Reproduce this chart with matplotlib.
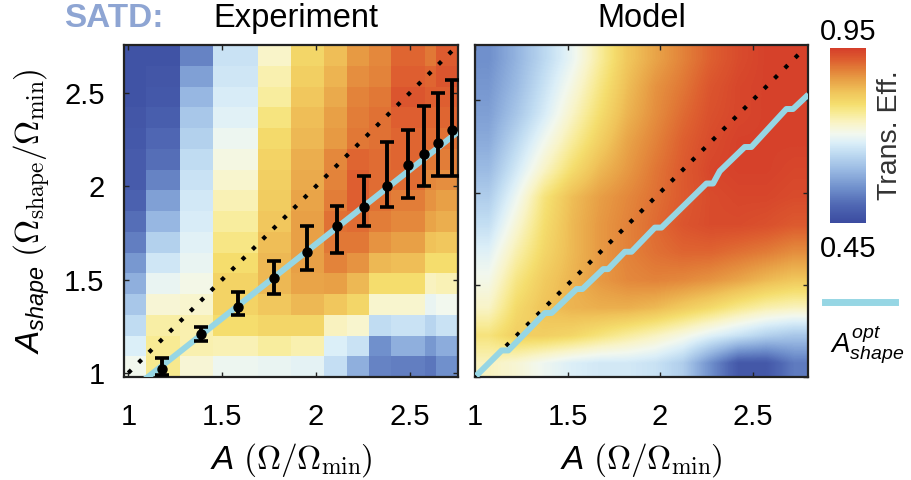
import numpy as np
import matplotlib
matplotlib.use("Agg")
import matplotlib.pyplot as plt
from matplotlib.colors import LinearSegmentedColormap
from matplotlib.lines import Line2D
from matplotlib.cm import ScalarMappable
from matplotlib.colors import Normalize

plt.rcParams['font.family'] = ['Liberation Sans', 'DejaVu Sans']
plt.rcParams['mathtext.fontset'] = 'custom'
plt.rcParams['mathtext.rm'] = 'cmr10'
plt.rcParams['mathtext.it'] = 'Liberation Sans:italic'
plt.rcParams['mathtext.bf'] = 'Liberation Sans:bold'
plt.rcParams['axes.unicode_minus'] = False

# ---------------- data ----------------
eff_min, eff_max = 0.45, 0.95

# measured grid: column edges in A, efficiencies (rows listed from top A_shape to bottom)
exp_x_edges = [0.977, 1.094, 1.275, 1.451, 1.691, 1.866, 2.042, 2.164, 2.282, 2.399, 2.580, 2.639, 2.757]
exp_y_range = [0.978, 2.757]
exp_eff = [
    [0.465, 0.465, 0.535, 0.660, 0.735, 0.800, 0.830, 0.865, 0.880, 0.910, 0.895, 0.920],
    [0.465, 0.470, 0.570, 0.665, 0.750, 0.810, 0.840, 0.875, 0.885, 0.915, 0.910, 0.925],
    [0.465, 0.475, 0.600, 0.675, 0.760, 0.820, 0.850, 0.885, 0.895, 0.925, 0.915, 0.915],
    [0.470, 0.485, 0.620, 0.685, 0.780, 0.830, 0.860, 0.890, 0.900, 0.915, 0.910, 0.910],
    [0.475, 0.500, 0.635, 0.700, 0.795, 0.835, 0.865, 0.895, 0.900, 0.910, 0.905, 0.900],
    [0.480, 0.510, 0.650, 0.715, 0.805, 0.845, 0.880, 0.910, 0.905, 0.910, 0.895, 0.890],
    [0.480, 0.535, 0.660, 0.730, 0.810, 0.850, 0.885, 0.915, 0.905, 0.905, 0.880, 0.875],
    [0.490, 0.570, 0.670, 0.745, 0.815, 0.855, 0.890, 0.915, 0.900, 0.890, 0.870, 0.860],
    [0.510, 0.600, 0.675, 0.760, 0.820, 0.860, 0.900, 0.905, 0.890, 0.880, 0.855, 0.845],
    [0.530, 0.635, 0.685, 0.775, 0.830, 0.860, 0.895, 0.895, 0.870, 0.860, 0.825, 0.820],
    [0.560, 0.665, 0.695, 0.790, 0.835, 0.860, 0.885, 0.870, 0.835, 0.830, 0.790, 0.790],
    [0.590, 0.695, 0.710, 0.805, 0.835, 0.855, 0.860, 0.835, 0.790, 0.790, 0.740, 0.745],
    [0.620, 0.725, 0.730, 0.805, 0.820, 0.835, 0.820, 0.800, 0.730, 0.730, 0.695, 0.705],
    [0.650, 0.755, 0.750, 0.790, 0.800, 0.800, 0.740, 0.730, 0.650, 0.660, 0.640, 0.660],
    [0.680, 0.765, 0.750, 0.745, 0.760, 0.750, 0.680, 0.660, 0.550, 0.590, 0.560, 0.585],
    [0.705, 0.770, 0.725, 0.700, 0.695, 0.690, 0.655, 0.590, 0.535, 0.530, 0.520, 0.550],
]

# optimal A_shape measured at each A (mean with lower / upper error limits)
meas_A = [1.178, 1.386, 1.586, 1.776, 1.953, 2.113, 2.257, 2.376, 2.493, 2.576, 2.651, 2.725]
meas_Ashape = [1.021, 1.209, 1.351, 1.510, 1.646, 1.785, 1.889, 1.999, 2.112, 2.173, 2.232, 2.299]
meas_low = [0.991, 1.169, 1.311, 1.425, 1.553, 1.643, 1.785, 1.889, 1.937, 1.999, 2.053, 2.053]
meas_high = [1.080, 1.246, 1.432, 1.600, 1.789, 1.892, 2.057, 2.235, 2.299, 2.432, 2.500, 2.567]

# linear fit of the measured optimum: slope, intercept
opt_fit = [0.795, 0.100]

# simulated efficiency on a 12 x 12 grid (rows listed from top A_shape to bottom)
model_range = [1.0, 2.8]
model_eff = [
    [0.550, 0.595, 0.645, 0.695, 0.760, 0.820, 0.855, 0.885, 0.915, 0.935, 0.945, 0.945],
    [0.560, 0.605, 0.660, 0.715, 0.775, 0.830, 0.870, 0.895, 0.925, 0.940, 0.945, 0.945],
    [0.570, 0.620, 0.675, 0.735, 0.790, 0.840, 0.875, 0.905, 0.930, 0.940, 0.945, 0.945],
    [0.585, 0.645, 0.705, 0.760, 0.810, 0.855, 0.885, 0.915, 0.935, 0.945, 0.945, 0.945],
    [0.605, 0.670, 0.735, 0.790, 0.835, 0.865, 0.895, 0.920, 0.940, 0.945, 0.945, 0.940],
    [0.630, 0.700, 0.780, 0.830, 0.860, 0.880, 0.900, 0.920, 0.935, 0.940, 0.940, 0.935],
    [0.655, 0.725, 0.790, 0.835, 0.865, 0.885, 0.905, 0.925, 0.935, 0.935, 0.930, 0.920],
    [0.685, 0.750, 0.800, 0.835, 0.865, 0.885, 0.900, 0.910, 0.910, 0.900, 0.890, 0.875],
    [0.710, 0.775, 0.815, 0.840, 0.865, 0.880, 0.885, 0.880, 0.870, 0.855, 0.835, 0.820],
    [0.735, 0.795, 0.825, 0.840, 0.845, 0.845, 0.835, 0.815, 0.795, 0.770, 0.750, 0.740],
    [0.780, 0.810, 0.810, 0.800, 0.780, 0.760, 0.740, 0.715, 0.685, 0.660, 0.635, 0.620],
    [0.740, 0.725, 0.700, 0.680, 0.670, 0.670, 0.660, 0.630, 0.550, 0.475, 0.475, 0.525],
]

# simulated optimum A_shape versus A
model_opt_A = [1.018, 1.144, 1.180, 1.378, 1.414, 1.549, 1.581, 1.693, 1.720, 1.810, 1.846,
               1.972, 2.008, 2.251, 2.287, 2.323, 2.458, 2.494, 2.683, 2.719, 2.791]
model_opt_Ashape = [1.018, 1.144, 1.144, 1.347, 1.347, 1.477, 1.477, 1.585, 1.585, 1.679, 1.679,
                    1.810, 1.810, 2.049, 2.049, 2.116, 2.247, 2.247, 2.453, 2.453, 2.521]

# adiabatic reference A_shape = A
diag = [1.0, 2.75]

tick_vals = [1, 1.5, 2, 2.5]
tick_text = ['1', '1.5', '2', '2.5']

# ---------------- style ----------------
cmap = LinearSegmentedColormap.from_list('trans_eff', [
    (0.00, '#3B4BA0'), (0.10, '#4F67B3'), (0.20, '#7090CC'), (0.30, '#98B8E2'),
    (0.40, '#C0DCF2'), (0.46, '#DCEFF8'), (0.51, '#F2F8EE'), (0.57, '#F9F4C8'),
    (0.63, '#F8EB95'), (0.68, '#F5DE6E'), (0.75, '#F0C45A'), (0.82, '#E8A046'),
    (0.88, '#E27E38'), (0.93, '#DE6030'), (1.00, '#D53E2A')])
norm = Normalize(eff_min, eff_max)
cyan = '#96D6E4'
spine_col = '#222222'
tick_fs = 21
label_fs = 24
W, H = 912, 480

fig = plt.figure(figsize=(W / 100, H / 100), dpi=100)


def box(x0, y0, x1, y1):
    return [x0 / W, 1 - y1 / H, (x1 - x0) / W, (y1 - y0) / H]


def style_axes(ax, show_y):
    for s in ax.spines.values():
        s.set_color(spine_col)
        s.set_linewidth(1.6)
    ax.set_xticks(tick_vals, tick_text)
    ax.set_yticks(tick_vals, tick_text)
    ax.tick_params(direction='in', top=True, right=True, length=3.5, width=1.0,
                   color=spine_col, labelsize=tick_fs)
    ax.tick_params(axis='x', pad=19)
    ax.tick_params(axis='y', pad=14, labelleft=show_y)
    ax.set_xlabel(r'$A\ (\Omega/\Omega_{\mathrm{min}})$', fontsize=label_fs, labelpad=7)


dot_style = dict(color='black', lw=3.0, ls=(0, (1, 2.5)), dash_capstyle='butt')

# ---- experiment ----
ax1 = fig.add_axes(box(124, 45, 458, 377))
y_edges = np.linspace(exp_y_range[0], exp_y_range[1], len(exp_eff) + 1)
ax1.pcolormesh(exp_x_edges, y_edges, np.flipud(np.array(exp_eff)), cmap=cmap, norm=norm,
               shading='flat')
ax1.set_xlim(exp_x_edges[0], exp_x_edges[-1])
ax1.set_ylim(*exp_y_range)
fx = np.array([exp_x_edges[0], exp_x_edges[-1]])
ax1.plot(fx, opt_fit[0] * fx + opt_fit[1], color=cyan, lw=4.3, solid_capstyle='butt', zorder=3)
ax1.plot(diag, diag, zorder=3, **dot_style)
yerr = [np.array(meas_Ashape) - np.array(meas_low), np.array(meas_high) - np.array(meas_Ashape)]
ax1.errorbar(meas_A, meas_Ashape, yerr=yerr, fmt='o', color='black', ms=6.5,
             elinewidth=2.8, capsize=4.8, capthick=2.6, zorder=4)
style_axes(ax1, True)
ax1.set_ylabel(r'$A_{shape}\ (\Omega_{\mathrm{shape}}/\Omega_{\mathrm{min}})$', fontsize=label_fs,
               labelpad=9)

# ---- model ----
ax2 = fig.add_axes(box(475, 45, 808, 377))
ax2.imshow(np.array(model_eff), cmap=cmap, norm=norm, origin='upper', aspect='auto',
           interpolation='bilinear',
           extent=[model_range[0], model_range[1], model_range[0], model_range[1]])
ax2.set_xlim(*model_range)
ax2.set_ylim(*model_range)
ax2.plot(diag, diag, zorder=3, **dot_style)
ax2.plot(model_opt_A, model_opt_Ashape, color=cyan, lw=4.3, zorder=3)
style_axes(ax2, False)

# ---- titles ----
fig.text(64 / W, 1 - 27 / H, 'SATD:', fontsize=24, fontweight='bold', color='#8EA5D3',
         ha='left', va='baseline')
fig.text(296 / W, 1 - 27 / H, 'Experiment', fontsize=23.5, ha='center', va='baseline')
fig.text(642 / W, 1 - 27 / H, 'Model', fontsize=23.5, ha='center', va='baseline')

# ---- colour bar ----
cax = fig.add_axes(box(830, 48, 866, 223))
cb = fig.colorbar(ScalarMappable(norm=norm, cmap=cmap), cax=cax)
cb.outline.set_visible(False)
cb.set_ticks([])
fig.text(848 / W, 1 - 40 / H, f'{eff_max:.2f}', fontsize=21, ha='center', va='baseline')
fig.text(848 / W, 1 - 257 / H, f'{eff_min:.2f}', fontsize=21, ha='center', va='baseline')
fig.text(890 / W, 1 - 135.5 / H, 'Trans. Eff.', fontsize=20.5, rotation=90, ha='center',
         va='center', color='#333333')

# ---- legend entry ----
fig.add_artist(Line2D([825 / W, 895 / W], [1 - 302 / H, 1 - 302 / H], color=cyan, lw=5,
                      transform=fig.transFigure))
fig.text(830 / W, 1 - 352 / H, r'$A^{opt}_{shape}$', fontsize=20, ha='left', va='baseline')

fig.savefig('out.png', dpi=100)
